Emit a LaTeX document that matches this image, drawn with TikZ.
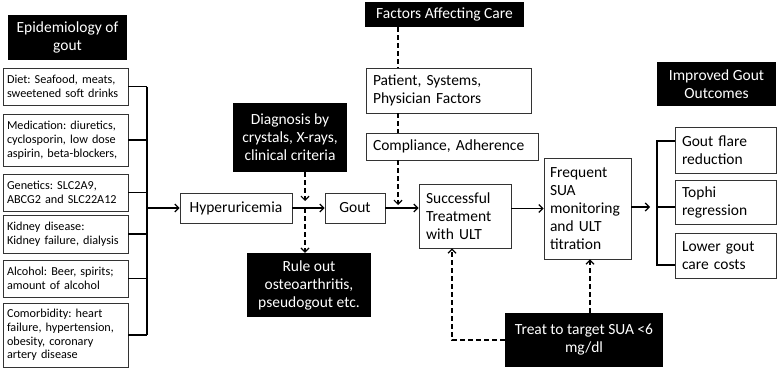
\documentclass[tikz,border=0pt]{standalone}
\usepackage{fontspec}
\setmainfont{Carlito}
\usetikzlibrary{arrows.meta}
\begin{document}
\frenchspacing
\begin{tikzpicture}[x=1pt,y=-1pt,
  wbox/.style={draw=black!80, line width=0.8pt, fill=white, align=left, inner sep=0pt,
     font=\fontsize{15.5}{18}\selectfont},
  sbox/.style={wbox, font=\fontsize{12.2}{13.8}\selectfont},
  bbox/.style={fill=black, text=white, align=center, inner sep=0pt,
     font=\fontsize{15.5}{18}\selectfont},
  conn/.style={line width=1.2pt},
  arr/.style={conn, -{Straight Barb[length=4pt,width=8pt,line width=1.2pt]}},
  darr/.style={arr, dashed, dash pattern=on 5pt off 3pt},
  dline/.style={conn, dashed, dash pattern=on 5pt off 3pt}
]
\useasboundingbox (0,0) rectangle (778,372);
\fill[white] (0,0) rectangle (778,372);

% left column
\node[bbox, minimum width=119, minimum height=45] (epi) at (67.5,37.5) {Epidemiology of\\gout};
\node[sbox, minimum width=125, minimum height=37, text width=117] (diet) at (65.5,86.5) {Diet: Seafood, meats,\\sweetened soft drinks};
\node[sbox, minimum width=125, minimum height=52, text width=117] (med) at (65.5,140) {Medication: diuretics,\\cyclosporin, low dose\\aspirin, beta-blockers,};
\node[sbox, minimum width=125, minimum height=37, text width=117] (gen) at (65.5,192.5) {Genetics: SLC2A9,\\ABCG2 and SLC22A12};
\node[sbox, minimum width=125, minimum height=38, text width=117] (kid) at (65.5,234) {Kidney disease:\\Kidney failure, dialysis};
\node[sbox, minimum width=125, minimum height=37, text width=117] (alc) at (65.5,278.5) {Alcohol: Beer, spirits;\\amount of alcohol};
\node[sbox, minimum width=125, minimum height=64, text width=117] (com) at (65.5,335) {Comorbidity: heart\\failure, hypertension,\\obesity, coronary\\artery disease};

\coordinate (lb) at (147,208);
\foreach \b in {diet,med,gen,kid,alc,com} \draw[conn] (\b.east) -- (\b.east -| lb);
\draw[conn] (diet.east -| lb) -- (com.east -| lb);

% middle
\node[wbox, minimum width=112, minimum height=30, align=center] (hyp) at (236,208) {Hyperuricemia};
\node[wbox, minimum width=60, minimum height=30, align=center] (gout) at (355,208) {Gout};
\draw[arr] (lb) -- (hyp.west);
\draw[arr] (hyp.east) -- (gout.west);

\node[bbox, minimum width=114, minimum height=69] (diag) at (290,137.5) {Diagnosis by\\crystals, X-rays,\\clinical criteria};
\node[bbox, minimum width=124, minimum height=64] (rule) at (309,285) {Rule out\\osteoarthritis,\\pseudogout etc.};
\coordinate (dx) at (305,208);
\draw[darr] (dx |- diag.south) -- (305,201);
\draw[darr] (dx) -- (dx |- rule.north);

\node[bbox, minimum width=159, minimum height=25] (fac) at (444.5,14.5) {Factors Affecting Care};
\node[wbox, minimum width=165, minimum height=45, text width=151] (pat) at (448.5,90.5) {Patient, Systems,\\Physician Factors};
\node[wbox, minimum width=172, minimum height=27, text width=158] (comp) at (452,146.5) {Compliance, Adherence};
\coordinate (fx) at (398,205);
\draw[dline] (fx |- fac.south) -- (fx |- pat.north);
\draw[dline] (fx |- pat.south) -- (fx |- comp.north);
\draw[darr] (fx |- comp.south) -- (fx);

\node[wbox, minimum width=92, minimum height=64, text width=78] (succ) at (465,216) {Successful\\Treatment\\with ULT};
\draw[arr] (gout.east) -- (gout.east -| succ.west);

\node[wbox, minimum width=87, minimum height=101, text width=75] (freq) at (587.5,208.5) {Frequent\\SUA\\monitoring\\and ULT\\titration};
\draw[arr] (succ.east |- freq.west) -- (freq.west);

\node[bbox, minimum width=158, minimum height=54] (treat) at (584,340) {Treat to target SUA <6\\mg/dl};
\draw[darr] (treat.west) -- (452,340) -- (452,0 |- succ.south);
\draw[darr] (590,0 |- treat.north) -- (590,0 |- freq.south);

% right
\node[bbox, minimum width=119, minimum height=44] (imp) at (716.5,84) {Improved Gout\\Outcomes};
\node[wbox, minimum width=101, minimum height=46, text width=87] (gfr) at (725.5,150) {Gout flare\\reduction};
\node[wbox, minimum width=101, minimum height=44, text width=87] (toph) at (725.5,202) {Tophi\\regression};
\node[wbox, minimum width=101, minimum height=45, text width=87] (low) at (725.5,255.5) {Lower gout\\care costs};
\coordinate (rb) at (657,207);
\draw[arr] (freq.east |- rb) -- (650,207);
\draw[conn] (gfr.west |- 0,141) -- (657,141) -- (657,265) -- (low.west |- 0,265);
\draw[conn] (rb) -- (rb -| toph.west);
\end{tikzpicture}
\end{document}
